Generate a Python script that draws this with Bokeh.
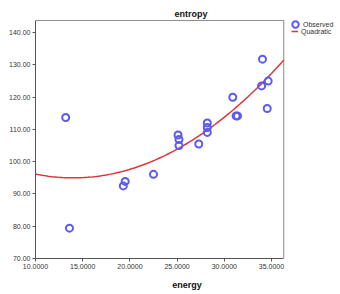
import numpy as np
from bokeh.plotting import figure
from bokeh.models import (Range1d, FixedTicker, PrintfTickFormatter,
                          Legend, LegendItem, ColumnDataSource)
from bokeh.embed import file_html
from bokeh.resources import INLINE

energy = [13.2, 13.6, 19.3, 19.5, 22.5, 25.1, 25.2, 25.2, 27.3, 28.2, 28.2, 28.2,
          30.9, 31.25, 31.4, 34.05, 33.95, 34.65, 34.55]
entropy = [113.7, 79.4, 92.5, 93.9, 96.1, 108.3, 106.9, 105.0, 105.5, 112.0, 110.6,
           109.1, 120.0, 114.2, 114.2, 131.8, 123.5, 125.0, 116.5]

# quadratic fit coefficients: y = b0 + b1*x + b2*x^2
b0, b1, b2 = 109.39, -2.055, 0.0734

x_ticks = [10, 15, 20, 25, 30, 35]
y_ticks = [70, 80, 90, 100, 110, 120, 130, 140]
x_lo, x_hi = 10, 36.3        # plotted x extent
y_lo, y_hi = 70, 143.8       # plotted y extent

FONT = "Liberation Sans"

p = figure(width=338, height=292, output_backend="svg", toolbar_location=None,
           x_range=Range1d(x_lo, 42.1), y_range=Range1d(y_lo, y_hi + 0.3),
           min_border_left=35, min_border_top=19, min_border_right=0,
           min_border_bottom=32)
p.xgrid.visible = False
p.ygrid.visible = False
p.outline_line_color = None

p.title.text = "entropy"
p.title.align = "left"
p.title.offset = 139
p.title.text_font = FONT
p.title.text_font_size = "9px"
p.title.text_font_style = "bold"
p.title.text_color = "#111111"
p.title.standoff = 2

# plot box top and right edges
p.line([x_lo, x_hi, x_hi], [y_hi, y_hi, y_lo], line_color="#8a8a8a", line_width=1)

xs = np.linspace(x_lo, x_hi, 120)
ys = b0 + b1 * xs + b2 * xs ** 2
ln = p.line(xs, ys, line_color="#e0333c", line_width=1.5)

src = ColumnDataSource(dict(x=energy, y=entropy))
sc = p.scatter("x", "y", source=src, size=7, marker="circle", fill_color=None,
               line_color="#5b5bef", line_width=2)

for ax, ticks, fmt in ((p.xaxis, x_ticks, "%.4f"), (p.yaxis, y_ticks, "%.2f")):
    ax.ticker = FixedTicker(ticks=ticks)
    ax.formatter = PrintfTickFormatter(format=fmt)
    ax.major_label_text_font = FONT
    ax.major_label_text_font_size = "7px"
    ax.major_label_text_color = "#333333"
    ax.major_tick_in = 0
    ax.major_tick_out = 3
    ax.minor_tick_line_color = None
    ax.axis_line_color = "#555555"
    ax.major_tick_line_color = "#555555"
    ax.major_label_standoff = 2

p.xaxis.bounds = (x_lo, x_hi)
p.yaxis.bounds = (y_lo, y_hi)

p.xaxis.axis_label = "energy"
p.xaxis.axis_label_text_font = FONT
p.xaxis.axis_label_text_font_size = "9px"
p.xaxis.axis_label_text_font_style = "bold"
p.xaxis.axis_label_text_color = "#111111"
p.xaxis.axis_label_standoff = 8

common = dict(orientation="vertical", label_text_font=FONT,
              label_text_font_size="7px", label_text_color="#333333",
              spacing=0, padding=0, margin=0, border_line_color=None,
              background_fill_alpha=0)

legend_obs = Legend(items=[LegendItem(label="Observed", renderers=[sc])],
                    location=(252, 226), label_height=16, glyph_height=16,
                    glyph_width=16, label_standoff=0, **common)
legend_fit = Legend(items=[LegendItem(label="Quadratic", renderers=[ln])],
                    location=(256, 223), label_height=8, glyph_height=8,
                    glyph_width=7, label_standoff=3, **common)
p.add_layout(legend_obs)
p.add_layout(legend_fit)

open("out.html", "w").write(file_html(p, INLINE))
